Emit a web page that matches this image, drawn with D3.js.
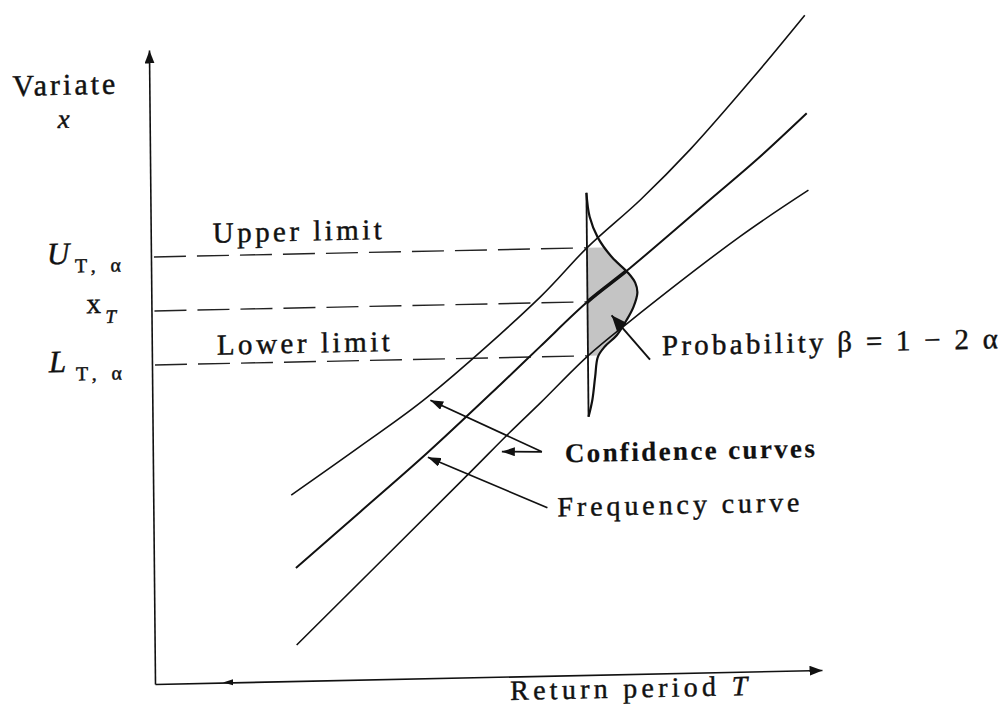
<!DOCTYPE html>
<html>
<head>
<meta charset="utf-8">
<script src="https://cdn.jsdelivr.net/npm/d3@7"></script>
<style>
  body { margin: 0; background: #fff; }
  svg { display: block; }
  text { font-family: "Liberation Serif", "Times New Roman", serif; }
</style>
</head>
<body>
<div id="chart"></div>
<script>
const width = 1003;
const height = 716;

// schematic units, 1 unit = 10 px along each axis
const xMax = 66.7;   // return period axis
const yMax = 63.4;   // variate axis

// curves as [return period, variate]
const frequencyCurve = [[14.2, 11.3], [20.7, 16.8], [27.4, 22.5], [34.8, 29.2], [38.8, 32.9],
    [43.6, 37.3], [47.9, 40.6], [56.0, 47.3], [60.7, 51.2], [65.7, 55.7]];
const upperCurve = [[13.8, 18.6], [20.7, 23.3], [27.5, 28.1], [38.9, 37.9], [43.6, 42.7],
    [49.0, 47.4], [54.0, 52.3], [60.4, 59.4], [65.6, 65.5]];
const lowerCurve = [[14.2, 3.6], [31.4, 20.2], [35.7, 24.4], [38.8, 27.3], [43.6, 31.9],
    [47.6, 35.1], [58.9, 43.5], [65.8, 48.0]];

// limits at the chosen return period
const returnPeriodT = 43.6;
const limitLevels = [42.7, 37.3, 31.9];   // U, x_T, L

// sampling distribution drawn sideways on T
const pdfLevels = [48.2, 45.8, 43.7, 41.7, 40.1, 39.1, 38.1, 36.7, 35.4, 33.9, 32.8, 31.8, 29.8, 27.5, 25.8];
const pdfWidths = [0, 0.3, 1.1, 2.5, 4.1, 4.8, 5.0, 4.6, 3.9, 2.9, 1.7, 1.0, 0.7, 0.4, 0];

// annotation pointers [from, to]
const pointers = [
    [[38.9, 22.4], [27.8, 27.8]],
    [[38.9, 22.4], [34.9, 22.5]],
    [[39.4, 16.8], [27.5, 22.1]]
];
const probPointer = [[49.8, 31.4], [46.0, 35.9]];

const svg = d3.select("#chart").append("svg")
    .attr("width", width)
    .attr("height", height)
    .style("background", "#fff");

const defs = svg.append("defs");

function arrowMarker(id, len, half) {
    defs.append("marker")
        .attr("id", id)
        .attr("viewBox", `0 ${-half} ${len} ${2 * half}`)
        .attr("refX", len)
        .attr("refY", 0)
        .attr("markerWidth", len)
        .attr("markerHeight", 2 * half)
        .attr("markerUnits", "userSpaceOnUse")
        .attr("orient", "auto")
        .append("path")
        .attr("d", `M0,${-half}L${len},0L0,${half}Z`)
        .attr("fill", "#111");
}
arrowMarker("axis-head", 13, 5);
arrowMarker("pointer-head", 13, 4.5);
arrowMarker("prob-head", 16, 6.5);

// the scanned figure sits slightly tilted
const g = svg.append("g")
    .attr("transform", "matrix(1,-0.021,0.0095,1,155,684)");

const x = d3.scaleLinear().domain([0, xMax]).range([0, xMax * 10]);
const y = d3.scaleLinear().domain([0, yMax]).range([0, -yMax * 10]);

// axes (no ticks, only arrows)
g.append("g")
    .call(d3.axisBottom(x).tickValues([]).tickSizeOuter(0))
    .select(".domain")
    .attr("stroke", "#111")
    .attr("stroke-width", 1.6)
    .attr("marker-end", "url(#axis-head)");

g.append("g")
    .call(d3.axisLeft(y).tickValues([]).tickSizeOuter(0))
    .select(".domain")
    .attr("stroke", "#111")
    .attr("stroke-width", 1.6)
    .attr("marker-end", "url(#axis-head)");

// little mark on the time axis
g.append("path")
    .attr("d", `M${x(6.8)},${y(0)}L${x(7.8)},${y(0) - 3}L${x(7.8)},${y(0) + 3}Z`)
    .attr("fill", "#111");

// dashed limit lines
g.selectAll(".limit")
    .data(limitLevels)
    .join("line")
    .attr("class", "limit")
    .attr("x1", x(0.3))
    .attr("x2", x(returnPeriodT))
    .attr("y1", d => y(d))
    .attr("y2", d => y(d))
    .attr("stroke", "#222")
    .attr("stroke-width", 1.4)
    .attr("stroke-dasharray", "32 11");

// distribution
const pdfPoints = pdfLevels.map((l, i) => [returnPeriodT + pdfWidths[i], l]);
const pdfLine = d3.line()
    .x(d => x(d[0]))
    .y(d => y(d[1]))
    .curve(d3.curveCatmullRom);
const shapeD = pdfLine(pdfPoints) + "Z";

defs.append("clipPath").attr("id", "band")
    .append("rect")
    .attr("x", x(returnPeriodT))
    .attr("y", y(limitLevels[0]))
    .attr("width", x(8))
    .attr("height", y(limitLevels[2]) - y(limitLevels[0]));

defs.append("clipPath").attr("id", "shape")
    .append("path")
    .attr("d", shapeD);

g.append("path")
    .attr("d", shapeD)
    .attr("fill", "#c4c4c4")
    .attr("clip-path", "url(#band)");

// curves
const line = d3.line()
    .x(d => x(d[0]))
    .y(d => y(d[1]))
    .curve(d3.curveCatmullRom.alpha(0.5));

g.selectAll(".curve")
    .data([upperCurve, lowerCurve])
    .join("path")
    .attr("class", "curve")
    .attr("d", line)
    .attr("fill", "none")
    .attr("stroke", "#111")
    .attr("stroke-width", 1.6);

g.append("path")
    .attr("d", line(frequencyCurve))
    .attr("fill", "none")
    .attr("stroke", "#111")
    .attr("stroke-width", 2);

// bold part of the frequency curve inside the distribution
g.append("path")
    .attr("d", line(frequencyCurve))
    .attr("fill", "none")
    .attr("stroke", "#111")
    .attr("stroke-width", 3.6)
    .attr("clip-path", "url(#shape)");

g.append("path")
    .attr("d", pdfLine(pdfPoints))
    .attr("fill", "none")
    .attr("stroke", "#111")
    .attr("stroke-width", 2.2);

g.append("line")
    .attr("x1", x(returnPeriodT))
    .attr("x2", x(returnPeriodT))
    .attr("y1", y(pdfLevels[0]))
    .attr("y2", y(pdfLevels[pdfLevels.length - 1]))
    .attr("stroke", "#111")
    .attr("stroke-width", 1.8);

// pointers
g.selectAll(".pointer")
    .data(pointers)
    .join("line")
    .attr("class", "pointer")
    .attr("x1", d => x(d[0][0]))
    .attr("y1", d => y(d[0][1]))
    .attr("x2", d => x(d[1][0]))
    .attr("y2", d => y(d[1][1]))
    .attr("stroke", "#111")
    .attr("stroke-width", 1.7)
    .attr("marker-end", "url(#pointer-head)");

g.append("line")
    .attr("x1", x(probPointer[0][0]))
    .attr("y1", y(probPointer[0][1]))
    .attr("x2", x(probPointer[1][0]))
    .attr("y2", y(probPointer[1][1]))
    .attr("stroke", "#111")
    .attr("stroke-width", 1.9)
    .attr("marker-end", "url(#prob-head)");

// text
function label(px, py, str, size, len, opts = {}) {
    const t = g.append("text")
        .attr("x", x(px))
        .attr("y", y(py))
        .attr("font-size", size)
        .attr("fill", "#111")
        .attr("stroke", "#111")
        .attr("stroke-width", opts.bold ? 0.2 : 0.45)
        .attr("text-anchor", opts.anchor || "start")
        .attr("font-style", opts.italic ? "italic" : null)
        .attr("font-weight", opts.bold ? "bold" : null)
        .text(str);
    if (len) t.attr("textLength", len).attr("lengthAdjust", "spacing");
    return t;
}

label(-13.7, 59.1, "Variate", 30, 103);
label(-8.6, 55.8, "x", 27, null, { anchor: "middle", italic: true });

label(-10.4, limitLevels[0] - 0.5, "U", 31, null, { italic: true });
label(-7.6, limitLevels[0] - 1.4, "T, α", 20, 46);
label(-6.5, limitLevels[1] - 0.1, "x", 29);
label(-4.6, limitLevels[1] - 1.1, "T", 19, null, { italic: true });
label(-10.3, limitLevels[2] - 0.5, "L", 31, null, { italic: true });
label(-7.6, limitLevels[2] - 1.4, "T, α", 20, 46);

label(6.2, 44.0, "Upper limit", 29, 169);
label(6.5, 32.8, "Lower limit", 29, 173);
label(51.0, 31.8, "Probability β = 1 − 2 α", 29, 336);
label(41.2, 21.3, "Confidence curves", 27, 250, { bold: true });
label(40.4, 15.9, "Frequency curve", 28, 242);

const rp = label(35.5, -2.35, "Return period ", 28, null);
rp.append("tspan").attr("font-style", "italic").text("T");
rp.attr("textLength", 237).attr("lengthAdjust", "spacing");
</script>
</body>
</html>
